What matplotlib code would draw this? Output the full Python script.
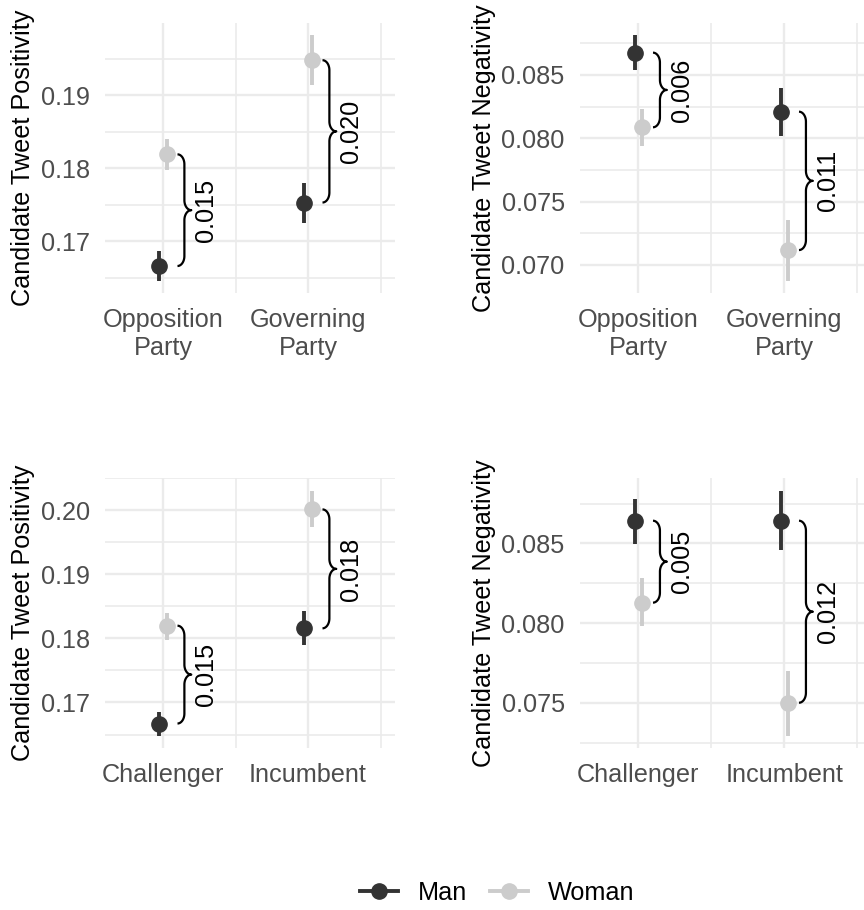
import numpy as np
import matplotlib

matplotlib.use("Agg")
import matplotlib.pyplot as plt
from matplotlib.lines import Line2D

plt.rcParams["font.family"] = ["Liberation Sans", "DejaVu Sans"]

# --- data ------------------------------------------------------------------
party_labels = ["Opposition\nParty", "Governing\nParty"]
status_labels = ["Challenger", "Incumbent"]

# positivity by party
pos_party_man = [0.1666, 0.1753]
pos_party_man_lo = [0.1645, 0.1725]
pos_party_man_hi = [0.1686, 0.1780]
pos_party_woman = [0.1819, 0.1948]
pos_party_woman_lo = [0.1798, 0.1914]
pos_party_woman_hi = [0.1840, 0.1983]
pos_party_diff = ["0.015", "0.020"]

# negativity by party
neg_party_man = [0.08676, 0.0821]
neg_party_man_lo = [0.08539, 0.0802]
neg_party_man_hi = [0.08816, 0.0840]
neg_party_woman = [0.08087, 0.07118]
neg_party_woman_lo = [0.07939, 0.06874]
neg_party_woman_hi = [0.08229, 0.07355]
neg_party_diff = ["0.006", "0.011"]

# positivity by incumbency
pos_status_man = [0.16672, 0.18156]
pos_status_man_lo = [0.16474, 0.1790]
pos_status_man_hi = [0.16853, 0.1843]
pos_status_woman = [0.18197, 0.2001]
pos_status_woman_lo = [0.1798, 0.1973]
pos_status_woman_hi = [0.1839, 0.2030]
pos_status_diff = ["0.015", "0.018"]

# negativity by incumbency
neg_status_man = [0.08642, 0.08642]
neg_status_man_lo = [0.08494, 0.08458]
neg_status_man_hi = [0.0878, 0.08831]
neg_status_woman = [0.08128, 0.0750]
neg_status_woman_lo = [0.07981, 0.07291]
neg_status_woman_hi = [0.08283, 0.07699]
neg_status_diff = ["0.005", "0.012"]

MAN = "#333333"
WOMAN = "#cccccc"
GRID = "#ebebeb"
TICK = "#4d4d4d"
FS = 18.2
DODGE = 0.025


def brace(ax, x0, ya, yb, w, ry):
    """Right-pointing curly brace from ya to yb, starting at x0."""
    xm, xt, ym = x0 + w / 2, x0 + w, (ya + yb) / 2
    ry = min(ry, (yb - ya) / 4)
    t = np.linspace(0, np.pi / 2, 20)
    xs, ys = [], []
    # lower end curl
    xs += list(x0 + (w / 2) * np.cos(-np.pi / 2 + t)); ys += list(ya + ry + ry * np.sin(-np.pi / 2 + t))
    # into the tip
    xs += list(xt + (w / 2) * np.cos(np.pi - t)); ys += list(ym - ry + ry * np.sin(np.pi - t))
    # out of the tip
    xs += list(xt + (w / 2) * np.cos(1.5 * np.pi - t)); ys += list(ym + ry + ry * np.sin(1.5 * np.pi - t))
    # upper end curl
    xs += list(x0 + (w / 2) * np.cos(t)); ys += list(yb - ry + ry * np.sin(t))
    ax.plot(xs, ys, color="black", lw=1.6, solid_capstyle="butt", zorder=4)
    return xt, ym


def panel(ax, cats, man, man_lo, man_hi, woman, woman_lo, woman_hi, diffs,
          ylim, major, minor, fmt, ylabel):
    x = np.arange(1, len(cats) + 1)
    ax.set_xlim(0.6, 2.6)
    ax.set_ylim(*ylim)
    for xs, mid, lo, hi, col in [
        (x - DODGE, man, man_lo, man_hi, MAN),
        (x + DODGE, woman, woman_lo, woman_hi, WOMAN),
    ]:
        ax.vlines(xs, lo, hi, color=col, lw=2.8, zorder=3)
        ax.plot(xs, mid, "o", color=col, ms=11, zorder=3)

    yr = ylim[1] - ylim[0]
    for xi, m, f, lab in zip(x, man, woman, diffs):
        xt, ym = brace(ax, xi + 0.1, min(m, f), max(m, f), 0.095, 0.037 * yr)
        ax.annotate(lab, (xt, ym), xytext=(2, 0), textcoords="offset points",
                    rotation=90, ha="left", va="center", fontsize=FS, color="black")

    ax.set_xticks(x)
    ax.set_xticklabels(cats, linespacing=1.25)
    ax.set_xticks([1.5, 2.5], minor=True)
    ax.set_yticks(major)
    ax.set_yticklabels([fmt.format(v) for v in major])
    ax.set_yticks(minor, minor=True)
    ax.grid(True, which="major", color=GRID, lw=1.7)
    ax.grid(True, which="minor", color=GRID, lw=1.2)
    ax.set_axisbelow(True)
    ax.tick_params(which="both", length=0, colors=TICK, labelsize=FS)
    ax.tick_params(axis="y", pad=11)
    ax.tick_params(axis="x", pad=10.5)
    for s in ax.spines.values():
        s.set_visible(False)
    ax.set_ylabel(ylabel, fontsize=FS, color="black", labelpad=4)


W, H = 864, 910
fig = plt.figure(figsize=(W / 100, H / 100), dpi=100)

ax1 = fig.add_axes([105 / W, 1 - 293 / H, 290 / W, 270 / H])
ax2 = fig.add_axes([580 / W, 1 - 293 / H, 292 / W, 270 / H])
ax3 = fig.add_axes([105 / W, 1 - 748 / H, 290 / W, 270 / H])
ax4 = fig.add_axes([580 / W, 1 - 748 / H, 292 / W, 270 / H])

panel(ax1, party_labels, pos_party_man, pos_party_man_lo, pos_party_man_hi,
      pos_party_woman, pos_party_woman_lo, pos_party_woman_hi, pos_party_diff,
      (0.1629, 0.1999), [0.17, 0.18, 0.19], [0.165, 0.175, 0.185, 0.195],
      "{:.2f}", "Candidate Tweet Positivity")
panel(ax2, party_labels, neg_party_man, neg_party_man_lo, neg_party_man_hi,
      neg_party_woman, neg_party_woman_lo, neg_party_woman_hi, neg_party_diff,
      (0.06779, 0.0891), [0.070, 0.075, 0.080, 0.085], [0.0725, 0.0775, 0.0825, 0.0875],
      "{:.3f}", "Candidate Tweet Negativity")
panel(ax3, status_labels, pos_status_man, pos_status_man_lo, pos_status_man_hi,
      pos_status_woman, pos_status_woman_lo, pos_status_woman_hi, pos_status_diff,
      (0.1629, 0.2050), [0.17, 0.18, 0.19, 0.20], [0.165, 0.175, 0.185, 0.195, 0.205],
      "{:.2f}", "Candidate Tweet Positivity")
panel(ax4, status_labels, neg_status_man, neg_status_man_lo, neg_status_man_hi,
      neg_status_woman, neg_status_woman_lo, neg_status_woman_hi, neg_status_diff,
      (0.07216, 0.0891), [0.075, 0.080, 0.085], [0.0725, 0.0775, 0.0825, 0.0875],
      "{:.3f}", "Candidate Tweet Negativity")

handles = [
    Line2D([], [], color=MAN, marker="o", ms=11, lw=2.8, label="Man"),
    Line2D([], [], color=WOMAN, marker="o", ms=11, lw=2.8, label="Woman"),
]
fig.legend(handles=handles, loc="center", bbox_to_anchor=(497 / W, 1 - 893 / H),
           ncol=2, frameon=False, fontsize=FS, handlelength=1.5,
           handletextpad=0.8, columnspacing=0.9)

fig.savefig("out.png", dpi=100)
